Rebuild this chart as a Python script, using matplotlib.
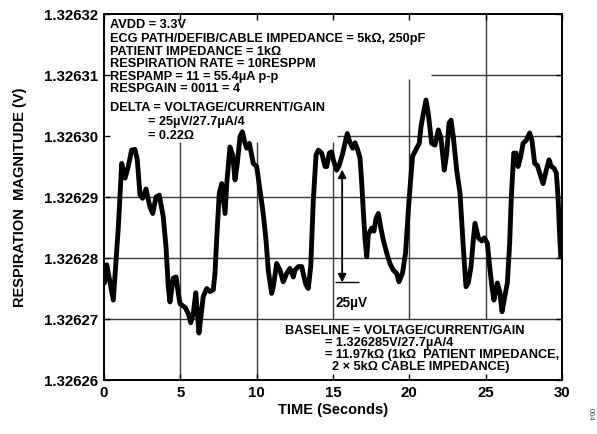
import matplotlib.pyplot as plt
import numpy as np
from matplotlib.ticker import FormatStrFormatter

plt.rcParams['font.family'] = ['Liberation Sans', 'DejaVu Sans']
plt.rcParams['font.weight'] = 'bold'

# respiration trace
base_v = 1.32626
time_s = [0.03, 0.18, 0.61, 0.94, 1.16, 1.38, 1.59, 1.81, 2.03, 2.18,
          2.36, 2.53, 2.75, 3.01, 3.19, 3.41, 3.62, 3.88, 4.06, 4.21,
          4.32, 4.54, 4.72, 4.87, 4.98, 5.31, 5.52, 5.68, 5.85, 6.01,
          6.22, 6.35, 6.50, 6.73, 6.94, 7.16, 7.27, 7.38, 7.55, 7.71,
          7.93, 8.04, 8.25, 8.43, 8.58, 8.73, 8.91, 9.06, 9.24, 9.35,
          9.52, 9.67, 9.78, 10.00, 10.22, 10.43, 10.61, 10.76, 10.98, 11.09,
          11.31, 11.53, 11.74, 11.97, 12.18, 12.40, 12.51, 12.73, 12.95, 13.10,
          13.23, 13.38, 13.54, 13.71, 13.89, 14.04, 14.26, 14.48, 14.59, 14.76,
          14.91, 15.02, 15.24, 15.41, 15.64, 15.79, 15.94, 16.11, 16.29, 16.44,
          16.62, 16.77, 16.88, 16.98, 17.10, 17.21, 17.31, 17.53, 17.68, 17.82,
          17.97, 18.12, 18.29, 18.52, 18.73, 18.95, 19.17, 19.32, 19.55, 19.75,
          19.98, 20.21, 20.48, 20.65, 20.76, 20.92, 21.09, 21.24, 21.46, 21.68,
          21.90, 22.07, 22.29, 22.45, 22.60, 22.73, 22.88, 23.10, 23.32, 23.53,
          23.71, 23.86, 24.04, 24.19, 24.30, 24.52, 24.74, 24.92, 25.11, 25.26,
          25.41, 25.54, 25.76, 25.92, 26.07, 26.25, 26.42, 26.57, 26.68, 26.84,
          26.99, 27.12, 27.29, 27.45, 27.66, 27.88, 28.03, 28.21, 28.38, 28.54,
          28.76, 28.97, 29.15, 29.30, 29.48, 29.63, 29.74, 29.85, 29.92]
# microvolts above base_v
resp_uv = [15.9, 18.9, 13.1, 25.1, 35.5, 33.1, 35.0, 37.7, 37.8, 36.1,
           30.3, 29.8, 31.3, 28.4, 27.3, 30.0, 30.3, 26.8, 21.9, 15.3,
           12.8, 16.7, 16.9, 14.2, 12.5, 11.9, 10.9, 9.4, 10.9, 14.3,
           7.7, 10.4, 13.7, 15.0, 14.5, 14.8, 17.5, 23.0, 30.6, 32.2,
           27.3, 32.2, 38.2, 36.9, 32.8, 35.5, 39.9, 40.7, 38.8, 38.0,
           38.8, 36.9, 35.5, 35.0, 31.1, 27.3, 23.0, 18.0, 14.2, 15.3,
           19.1, 18.0, 16.1, 17.5, 18.3, 16.9, 18.0, 18.6, 18.6, 16.9,
           15.6, 15.0, 18.6, 29.5, 36.9, 37.7, 37.2, 35.0, 35.0, 37.2,
           37.4, 36.1, 34.4, 35.2, 37.2, 38.9, 40.4, 38.9, 38.0, 38.9,
           37.7, 36.4, 32.3, 27.9, 23.0, 20.2, 23.8, 24.9, 24.4, 26.5,
           27.3, 25.1, 23.0, 20.8, 19.1, 18.0, 17.5, 16.1, 17.5, 20.8,
           29.5, 36.7, 38.0, 38.8, 41.5, 43.7, 45.9, 43.7, 38.8, 38.5,
           41.0, 39.7, 34.4, 37.2, 42.1, 42.6, 39.9, 34.4, 30.6, 21.9,
           15.3, 15.9, 18.6, 23.0, 25.7, 23.3, 22.8, 23.3, 22.4, 18.6,
           15.3, 13.1, 15.9, 14.5, 11.2, 13.7, 15.9, 22.4, 30.0, 37.2,
           37.2, 35.0, 36.6, 38.8, 39.3, 40.5, 39.3, 35.5, 35.2, 33.9,
           32.2, 34.4, 36.1, 35.0, 34.7, 33.9, 30.0, 23.5, 20.2]
y_ticks = [1.32626, 1.32627, 1.32628, 1.32629, 1.32630, 1.32631, 1.32632]
x_ticks = [0, 5, 10, 15, 20, 25, 30]

resp_v = base_v + np.array(resp_uv) * 1e-6

fig = plt.figure(figsize=(5.97, 4.34), dpi=100)
ax = fig.add_axes([0.1742, 0.1244, 0.7672, 0.8433])

ax.set_xlim(0, 30)
ax.set_ylim(1.32626, 1.32632)
ax.set_xticks(x_ticks)
ax.set_yticks(y_ticks)
ax.yaxis.set_major_formatter(FormatStrFormatter('%.5f'))
ax.tick_params(direction='in', top=True, right=True, length=4, width=1,
               labelsize=10.8, pad=4)
for s in ax.spines.values():
    s.set_linewidth(1.4)

# partial grid (text blocks sit over parts of it)
gc = '#3a3a3a'
gw = 1.0
ax.hlines([1.32629, 1.32628, 1.32627], 0, 30, color=gc, lw=gw, zorder=1)
ax.hlines(1.32631, 21.4, 30, color=gc, lw=gw, zorder=1)
ax.hlines(1.32630, 15.25, 30, color=gc, lw=gw, zorder=1)
ax.vlines([5, 10], 1.32626, 1.326299, color=gc, lw=gw, zorder=1)
ax.vlines(15, 1.32627, 1.326299, color=gc, lw=gw, zorder=1)
ax.vlines(20, 1.32627, 1.3263093, color=gc, lw=gw, zorder=1)
ax.vlines(25, 1.32627, 1.32632, color=gc, lw=gw, zorder=1)

ax.plot(time_s, resp_v, color='black', lw=3.5, solid_joinstyle='round',
        solid_capstyle='round', zorder=3)

# 25uV marker
ax.annotate('', xy=(15.6, 1.3262945), xytext=(15.6, 1.326276),
            arrowprops=dict(arrowstyle='<|-|>', color='black', lw=1.3,
                            mutation_scale=12, shrinkA=0, shrinkB=0), zorder=4)
ax.hlines(1.326276, 15.1, 16.7, color='black', lw=1.0, zorder=4)
ax.text(15.15, 1.3262737, '25µV', fontsize=9.8, va='top', ha='left')

# top-left notes
def px_y(py):
    return (380 - py) / 366.0

def px_x(px):
    return (px - 104) / 458.0

notes = [
    (110, 25, 'AVDD = 3.3V'),
    (110, 39, 'ECG PATH/DEFIB/CABLE IMPEDANCE = 5kΩ, 250pF'),
    (110, 52, 'PATIENT IMPEDANCE = 1kΩ'),
    (110, 64, 'RESPIRATION RATE = 10RESPPM'),
    (110, 77, 'RESPAMP = 11 = 55.4µA p-p'),
    (110, 89, 'RESPGAIN = 0011 = 4'),
    (110, 108, 'DELTA = VOLTAGE/CURRENT/GAIN'),
    (148, 122, '= 25µV/27.7µA/4'),
    (148, 136, '= 0.22Ω'),
    (285, 331, 'BASELINE = VOLTAGE/CURRENT/GAIN'),
    (325, 343, '= 1.326285V/27.7µA/4'),
    (325, 355, '= 11.97kΩ (1kΩ  PATIENT IMPEDANCE,'),
    (332, 367, '2 × 5kΩ CABLE IMPEDANCE)'),
]
for nx, ny, txt in notes:
    ax.text(px_x(nx), px_y(ny), txt, transform=ax.transAxes, fontsize=9.2,
            ha='left', va='center', zorder=5)

fig.text(20 / 597, 1 - 197 / 434, 'RESPIRATION  MAGNITUDE (V)', rotation=90,
         ha='center', va='center', fontsize=10.5)
fig.text(333 / 597, 1 - 410 / 434, 'TIME (Seconds)', ha='center', va='center',
         fontsize=10.5)
fig.text(590 / 597, 1 - 414 / 434, '064', rotation=270, ha='center',
         va='center', fontsize=5.5, color='#555555', fontweight='normal')

fig.savefig('out.png', dpi=100)
